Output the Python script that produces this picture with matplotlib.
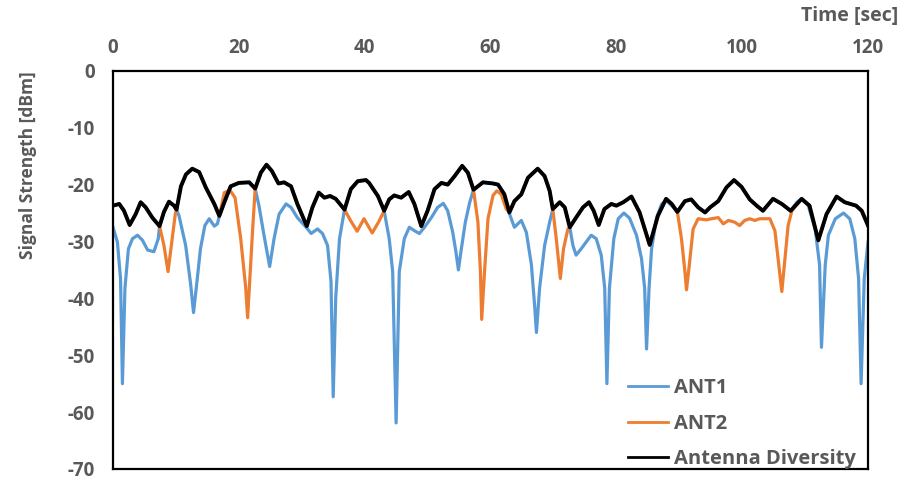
import matplotlib
matplotlib.use("Agg")
import matplotlib.pyplot as plt

plt.rcParams["axes.unicode_minus"] = False

# -------------------------------
# DATA
# -------------------------------

# Antenna Diversity (black)
div_t = [0, 1.0, 1.75, 2.65, 3.6, 4.4, 5.2, 6.25, 7.4, 8.1, 8.9, 9.7, 10.1,
         10.8, 11.6, 12.6, 13.7, 14.75, 16.1, 16.9, 17.7, 18.7, 20.0, 21.65,
         22.6, 23.5, 24.4, 25.25, 26.3, 27.2, 28.3, 29.3, 30.8, 31.7, 32.7,
         33.6, 34.5, 35.4, 36.8, 37.8, 38.9, 40.2, 40.7, 42.1, 43.1, 43.9,
         44.7, 45.8, 47.0, 47.9, 49.0, 50.0, 51.1, 52.2, 53.2, 54.3, 55.5,
         56.4, 57.3, 58.8, 60.4, 61.2, 62.2, 63.0, 63.8, 64.9, 65.95, 67.5,
         68.6, 69.4, 69.9, 71.0, 71.8, 72.6, 73.6, 74.7, 75.65, 76.4, 77.2,
         78.1, 79.2, 80.0, 81.1, 82.4, 83.7, 85.3, 86.6, 87.9, 88.8, 89.7,
         90.9, 91.9, 93.0, 94.1, 94.9, 96.2, 97.5, 98.7, 99.9, 101.2, 102.3,
         103.3, 104.9, 106.3, 107.7, 109.45, 110.7, 112.1, 113.4, 115.0,
         116.3, 118.1, 119.0, 120.0]
div_db = [-23.7, -23.4, -24.6, -27.1, -25.2, -23.1, -24.0, -25.8, -27.3, -24.8,
          -23.0, -23.7, -24.4, -20.3, -18.2, -17.2, -17.8, -20.5, -23.4, -25.5,
          -23.1, -20.3, -19.7, -19.6, -20.7, -17.9, -16.5, -17.6, -19.8, -19.6,
          -20.3, -23.4, -27.3, -24.0, -21.4, -22.3, -22.0, -22.5, -24.4, -20.8,
          -19.4, -19.2, -19.7, -22.0, -24.6, -22.6, -21.9, -22.3, -21.3, -23.4,
          -27.3, -24.6, -20.8, -19.7, -20.0, -18.5, -16.7, -17.9, -20.9, -19.6,
          -19.8, -20.0, -21.7, -24.9, -22.9, -21.7, -18.8, -17.2, -18.5, -21.1,
          -24.3, -23.1, -24.0, -27.5, -25.8, -24.0, -23.1, -24.6, -27.1, -24.3,
          -23.4, -23.7, -23.1, -22.1, -24.9, -30.6, -25.5, -22.5, -23.4, -24.8,
          -22.9, -22.6, -24.0, -24.9, -24.0, -22.9, -20.5, -19.2, -20.4, -22.6,
          -23.7, -24.6, -22.5, -23.4, -24.6, -22.5, -23.7, -29.8, -25.2, -22.1,
          -23.1, -23.7, -24.6, -27.2]

# ANT1 (blue)
ant1_t = [0, 0.7, 1.2, 1.5, 1.9, 2.45, 3.1, 3.9, 4.7, 5.5, 6.5, 7.2, 7.4, 8.1,
          8.9, 9.7, 10.1, 10.5, 11.55, 12.35, 12.8, 13.4, 13.9, 14.6, 15.3,
          16.1, 16.6, 16.9, 17.7, 18.7, 20.0, 21.65, 22.6, 23.2, 24.0, 24.9,
          25.6, 26.4, 27.5, 28.3, 29.3, 30.7, 31.5, 32.5, 33.3, 34.1, 34.65,
          35.0, 35.4, 36.0, 36.8, 37.8, 38.9, 40.2, 40.7, 42.1, 43.1, 43.9,
          44.45, 45.0, 45.5, 46.3, 47.1, 47.9, 48.7, 49.5, 50.6, 51.6, 52.5,
          53.2, 54.0, 54.5, 54.9, 55.3, 56.0, 56.7, 57.3, 58.8, 60.4, 61.2,
          62.2, 62.8, 63.3, 63.8, 64.9, 65.7, 66.5, 67.0, 67.3, 67.8, 68.6,
          69.4, 69.9, 71.0, 71.8, 72.6, 73.1, 73.6, 74.4, 75.2, 76.0, 76.8,
          77.6, 78.15, 78.5, 78.9, 79.6, 80.3, 81.2, 82.1, 83.2, 84.0, 84.5,
          84.8, 85.2, 85.6, 86.4, 87.2, 87.9, 88.8, 89.7, 90.9, 91.9, 93.0,
          94.1, 94.9, 96.2, 97.5, 98.7, 99.9, 101.2, 102.3, 103.3, 104.9,
          106.3, 107.7, 108.7, 109.45, 110.5, 111.6, 112.3, 112.6, 113.2,
          113.7, 114.8, 116.1, 117.1, 117.9, 118.5, 118.9, 119.4, 120.0]
ant1_db = [-27.5, -30.1, -36.5, -55.0, -38.2, -31.3, -29.5, -28.9, -29.8, -31.5,
           -31.8, -29.5, -27.3, -24.8, -23.0, -23.7, -24.4, -25.5, -30.7, -37.6,
           -42.5, -36.5, -31.3, -27.2, -26.0, -27.3, -26.9, -25.5, -23.1, -20.3,
           -19.7, -19.6, -20.7, -23.7, -28.9, -34.4, -29.5, -25.2, -23.4, -24.0,
           -25.8, -27.5, -28.6, -27.8, -28.6, -30.7, -37.0, -57.3, -39.9, -29.5,
           -24.4, -20.8, -19.4, -19.2, -19.7, -22.0, -24.6, -29.5, -35.3, -61.9,
           -35.3, -29.5, -27.5, -28.1, -28.6, -27.5, -25.8, -24.0, -23.3, -24.6,
           -28.4, -31.8, -35.0, -31.8, -26.6, -23.1, -20.9, -19.6, -19.8, -20.0,
           -21.7, -24.5, -26.0, -27.5, -26.3, -28.4, -34.1, -41.1, -46.0, -38.2,
           -30.7, -26.6, -24.3, -23.1, -24.0, -27.5, -30.7, -32.4, -31.3, -30.1,
           -28.9, -29.5, -32.4, -38.2, -55.0, -38.2, -29.5, -26.0, -25.0, -25.9,
           -28.9, -33.0, -38.2, -48.9, -38.2, -31.3, -25.8, -23.4, -22.8, -23.7,
           -24.8, -22.9, -22.6, -24.0, -24.9, -24.0, -22.9, -20.5, -19.2, -20.4,
           -22.6, -23.7, -24.6, -22.5, -23.4, -24.6, -23.1, -22.5, -23.7, -27.8,
           -34.1, -48.6, -34.1, -28.9, -26.0, -25.0, -26.0, -29.5, -36.5, -55.0,
           -36.5, -30.1]

# ANT2 (orange)
ant2_t = [0, 1.0, 1.75, 2.65, 3.6, 4.4, 5.2, 6.25, 7.4, 8.1, 8.75, 9.2, 9.9,
          10.1, 10.8, 11.6, 12.6, 13.7, 14.75, 16.1, 16.9, 17.7, 18.6, 19.4,
          20.3, 21.1, 21.4, 21.75, 22.2, 22.6, 23.5, 24.4, 25.25, 26.3, 27.2,
          28.3, 29.3, 30.8, 31.7, 32.7, 33.6, 34.5, 35.4, 36.8, 37.8, 38.8,
          39.9, 41.2, 42.2, 43.1, 43.9, 44.7, 45.8, 47.0, 47.9, 49.0, 50.0,
          51.1, 52.2, 53.2, 54.3, 55.5, 56.4, 57.3, 58.0, 58.4, 58.6, 59.05,
          59.6, 60.4, 61.0, 61.7, 62.5, 63.0, 63.8, 64.9, 65.95, 67.5, 68.6,
          69.4, 69.9, 70.45, 71.1, 71.6, 72.3, 72.6, 73.6, 74.7, 75.65, 76.4,
          77.2, 78.1, 79.2, 80.0, 81.1, 82.4, 83.7, 85.3, 86.6, 87.9, 88.8,
          89.7, 90.35, 90.9, 91.15, 91.6, 92.2, 93.0, 94.3, 95.1, 96.2, 97.0,
          97.8, 98.8, 99.6, 100.4, 101.2, 102.0, 102.8, 104.4, 105.2, 105.7,
          106.3, 106.8, 107.3, 107.9, 109.45, 110.7, 112.1, 113.4, 115.0,
          116.3, 118.1, 119.0, 120.0]
ant2_db = [-23.7, -23.4, -24.6, -27.1, -25.2, -23.1, -24.0, -25.8, -27.3, -30.7,
           -35.3, -31.3, -25.2, -24.4, -20.3, -18.2, -17.2, -17.8, -20.5, -23.4,
           -25.5, -21.4, -21.0, -22.3, -29.5, -38.2, -43.4, -36.5, -27.8, -20.7,
           -17.9, -16.5, -17.6, -19.8, -19.6, -20.3, -23.4, -27.3, -24.0, -21.4,
           -22.3, -22.0, -22.5, -24.4, -26.4, -28.2, -26.0, -28.5, -26.6, -24.6,
           -22.6, -21.9, -22.3, -21.3, -23.4, -27.3, -24.6, -20.8, -19.7, -20.0,
           -18.5, -16.7, -17.9, -20.9, -26.6, -35.3, -43.7, -35.3, -26.0, -21.9,
           -21.1, -21.7, -24.3, -24.9, -22.9, -21.7, -18.8, -17.2, -18.5, -21.1,
           -24.3, -29.5, -36.5, -31.3, -27.8, -27.5, -25.8, -24.0, -23.1, -24.6,
           -27.1, -24.3, -23.4, -23.7, -23.1, -22.1, -24.9, -30.6, -25.5, -22.5,
           -23.4, -24.8, -29.5, -35.3, -38.5, -34.1, -27.8, -26.0, -26.2, -26.0,
           -25.8, -26.9, -26.3, -26.6, -27.2, -26.3, -26.0, -26.3, -26.0, -26.0,
           -28.1, -33.0, -38.8, -33.0, -27.2, -24.6, -22.5, -23.7, -29.8, -25.2,
           -22.1, -23.1, -23.7, -24.6, -27.2]

x_ticks = [0, 20, 40, 60, 80, 100, 120]
y_ticks = [0, -10, -20, -30, -40, -50, -60, -70]

# -------------------------------
# PLOT
# -------------------------------

gray = "#595959"
font = ["Open Sans", "DejaVu Sans"]

fig = plt.figure(figsize=(9.01, 4.82), dpi=100)
ax = fig.add_axes([0.1254, 0.027, 0.838, 0.826])

ax.plot(ant1_t, ant1_db, color="#5B9BD5", lw=2.3, label="ANT1",
        solid_joinstyle="round")
ax.plot(ant2_t, ant2_db, color="#ED7D31", lw=2.3, label="ANT2",
        solid_joinstyle="round")
ax.plot(div_t, div_db, color="black", lw=2.8, label="Antenna Diversity",
        solid_joinstyle="round")

ax.set_xlim(0, 120)
ax.set_ylim(-70, 0)
ax.set_xticks(x_ticks)
ax.set_yticks(y_ticks)
ax.xaxis.tick_top()
ax.tick_params(length=0, labelcolor=gray)
ax.tick_params(axis="y", pad=13)
ax.tick_params(axis="x", pad=9)
for lbl in ax.get_xticklabels() + ax.get_yticklabels():
    lbl.set_family(font)
    lbl.set_fontweight("bold")
    lbl.set_fontsize(13.5)

for s in ax.spines.values():
    s.set_color("black")
    s.set_linewidth(1.6)

fig.text(0.997, 0.966, "Time [sec]", ha="right", va="center", color=gray,
         family=font, fontweight="bold", fontsize=14)
fig.text(0.031, 0.658, "Signal Strength [dBm]", rotation=90, ha="center",
         va="center", color=gray, family=font, fontweight="bold", fontsize=12.5)

leg = ax.legend(loc="upper left", bbox_to_anchor=(628 / 901, 1 - 378 / 482),
                bbox_transform=fig.transFigure, frameon=False, borderpad=0,
                borderaxespad=0, handlelength=2.0, handletextpad=0.3,
                labelspacing=0.78,
                prop={"family": font, "weight": "bold", "size": 14.5})
for t in leg.get_texts():
    t.set_color(gray)
for h in leg.get_lines():
    h.set_linewidth(2.0)

fig.savefig("out.png", dpi=100)
